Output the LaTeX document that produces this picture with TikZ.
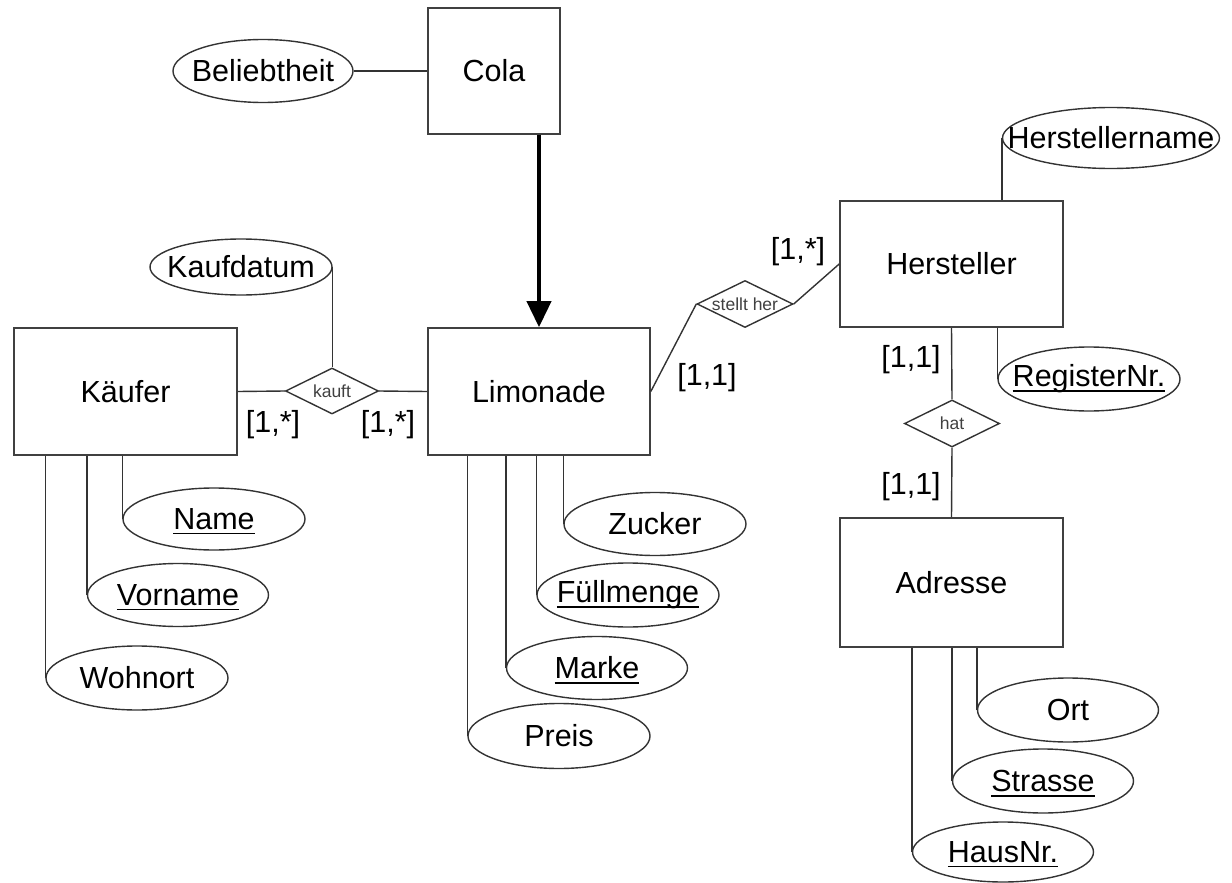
\documentclass[tikz,border=0pt]{standalone}
\usepackage{fontspec}
\setmainfont{Liberation Sans}
\usetikzlibrary{shapes.geometric,arrows.meta}
\newcommand{\ulin}[1]{\begingroup\setbox0=\hbox{#1}\rlap{\smash{\rule[-5pt]{\wd0}{1.8pt}}}\box0\endgroup}
\newcommand{\bigfont}{\fontsize{30.5}{36}\selectfont}
\newcommand{\smallfont}{\fontsize{17.5}{20}\selectfont}
\begin{document}
\begin{tikzpicture}[x=1pt,y=-1pt,
  ln/.style={draw=black!80, line width=1.4pt},
  ent/.style={rectangle, draw=black!75, line width=1.6pt, minimum width=223pt, minimum height=127pt, inner sep=0pt, font=\bigfont},
  attr/.style 2 args={ellipse, draw=black!80, line width=1.4pt, minimum width=#1, minimum height=#2, inner sep=0pt},
  attrlabel/.style={font=\bigfont, inner sep=0pt},
  rel/.style={diamond, draw=black!80, line width=1.4pt, minimum width=94pt, minimum height=47pt, inner sep=0pt},
  rellabel/.style={font=\smallfont, text=black!75, inner sep=0pt},
  card/.style={font=\bigfont, inner sep=0pt}]
\useasboundingbox (0,0) rectangle (1232,883);

% entities
\node[ent, minimum width=132pt, minimum height=126pt] (cola) at (494,71) {Cola};
\node[ent] (kaeufer) at (125.5,391.5) {Käufer};
\node[ent, minimum width=222pt] (limonade) at (539,391.5) {Limonade};
\node[ent, minimum height=126pt] (hersteller) at (951.5,264) {Hersteller};
\node[ent, minimum height=129pt] (adresse) at (951.5,582.5) {Adresse};

% relationships
\node[rel, minimum width=93pt, minimum height=46pt, label={[rellabel]center:kauft}] (kauft) at (332,391) {};
\node[rel, minimum width=96pt, label={[rellabel]center:stellt her}] (stellt) at (745,304) {};
\node[rel, minimum width=95pt, label={[rellabel]center:hat}] (hat) at (952,423.5) {};

% attributes
\node[attr={180pt}{63pt}, label={[attrlabel]center:Beliebtheit}] (beliebt) at (263,71) {};
\node[attr={182pt}{56pt}, label={[attrlabel]center:Kaufdatum}] (kaufdatum) at (241,267) {};
\node[attr={182pt}{62pt}, label={[attrlabel]center:\ulin{Name}}] (name) at (214,519) {};
\node[attr={181pt}{63pt}, label={[attrlabel]center:\ulin{Vorname}}] (vorname) at (178,595) {};
\node[attr={182pt}{64pt}, label={[attrlabel]center:Wohnort}] (wohnort) at (137,678) {};
\node[attr={182pt}{63pt}, label={[attrlabel]center:Zucker}] (zucker) at (655,524) {};
\node[attr={182pt}{64pt}, label={[attrlabel]center:\ulin{Füllmenge}}] (fuell) at (628,595) {};
\node[attr={181pt}{63pt}, label={[attrlabel]center:\ulin{Marke}}] (marke) at (597,668) {};
\node[attr={182pt}{65pt}, label={[attrlabel]center:Preis}] (preis) at (559,736) {};
\node[attr={217pt}{61pt}, label={[attrlabel]center:Herstellername}] (hname) at (1111,138) {};
\node[attr={182pt}{64pt}, label={[attrlabel]center:\ulin{RegisterNr.}}] (regnr) at (1089,379) {};
\node[attr={181pt}{64pt}, label={[attrlabel]center:Ort}] (ort) at (1068,710) {};
\node[attr={181pt}{64pt}, label={[attrlabel]center:\ulin{Strasse}}] (strasse) at (1043,781) {};
\node[attr={181pt}{60pt}, label={[attrlabel]center:\ulin{HausNr.}}] (hausnr) at (1003,852) {};

% cardinalities
\node[card] (c1) at (273,425) {[1,*]};
\node[card] (c2) at (388,425) {[1,*]};
\node[card] (c3) at (707,378) {[1,1]};
\node[card] (c4) at (798,252) {[1,*]};
\node[card] (c5) at (911,360) {[1,1]};
\node[card] (c6) at (911,487) {[1,1]};

% connectors
\draw[ln] (beliebt.east) -- (cola.west);
\draw[line width=4pt, black, -{Triangle[width=24pt,length=26pt]}] (cola.south -| limonade.north) -- (limonade.north);
\draw[ln] (kaeufer.east) -- (kauft.west);
\draw[ln] (kauft.east) -- (limonade.west);
\draw[ln] (kaufdatum.east) -- (kaufdatum.east |- kauft.north);
\draw[ln] (limonade.east) -- (stellt.west);
\draw[ln] (stellt.east) -- (hersteller.west);
\draw[ln] (hersteller.south) -- (hat.north);
\draw[ln] (hat.south) -- (adresse.north);
\draw[ln] (hname.west) -- (hname.west |- hersteller.north);
\draw[ln] (regnr.west |- hersteller.south) -- (regnr.west);
\draw[ln] (name.west |- kaeufer.south) -- (name.west);
\draw[ln] (vorname.west |- kaeufer.south) -- (vorname.west);
\draw[ln] (wohnort.west |- kaeufer.south) -- (wohnort.west);
\draw[ln] (zucker.west |- limonade.south) -- (zucker.west);
\draw[ln] (fuell.west |- limonade.south) -- (fuell.west);
\draw[ln] (marke.west |- limonade.south) -- (marke.west);
\draw[ln] (preis.west |- limonade.south) -- (preis.west);
\draw[ln] (ort.west |- adresse.south) -- (ort.west);
\draw[ln] (strasse.west |- adresse.south) -- (strasse.west);
\draw[ln] (hausnr.west |- adresse.south) -- (hausnr.west);
\end{tikzpicture}
\end{document}
